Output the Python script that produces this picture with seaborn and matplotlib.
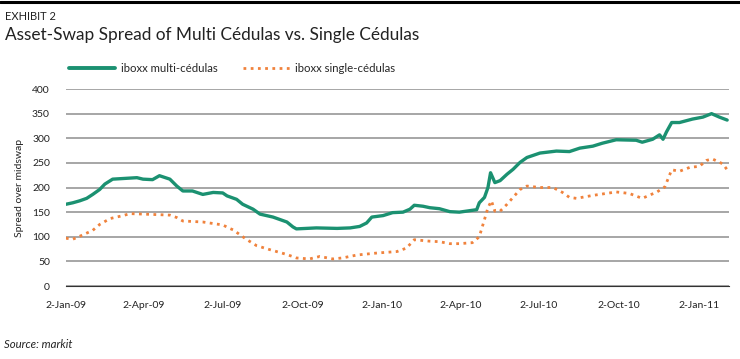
import matplotlib
matplotlib.use("Agg")
import matplotlib.pyplot as plt
from matplotlib.lines import Line2D
import seaborn as sns
import pandas as pd

multi_dates = ["2009-01-02","2009-01-10","2009-01-18","2009-01-26","2009-02-02","2009-02-10","2009-02-16",
    "2009-02-25","2009-03-25","2009-04-01","2009-04-12","2009-04-20","2009-05-02","2009-05-10","2009-05-17",
    "2009-05-28","2009-06-09","2009-06-21","2009-07-02","2009-07-07","2009-07-18","2009-07-25","2009-08-06",
    "2009-08-14","2009-08-29","2009-09-14","2009-09-21","2009-09-25","2009-10-18","2009-11-11","2009-11-26",
    "2009-12-07","2009-12-15","2009-12-21","2010-01-03","2010-01-14","2010-01-26","2010-02-03","2010-02-08",
    "2010-02-18","2010-02-26","2010-03-09","2010-03-21","2010-04-01","2010-04-13","2010-04-21","2010-04-24",
    "2010-04-30","2010-05-04","2010-05-07","2010-05-12","2010-05-18","2010-05-26","2010-06-02","2010-06-10",
    "2010-06-18","2010-07-03","2010-07-22","2010-08-06","2010-08-18","2010-09-02","2010-09-13","2010-09-29",
    "2010-10-22","2010-10-29","2010-11-10","2010-11-18","2010-11-22","2010-11-26","2010-12-02","2010-12-11",
    "2010-12-26","2011-01-07","2011-01-17","2011-01-26","2011-02-04"]
multi_vals = [166,169,173,178,186,196,207,
    217,220,217,216,224,217,203,193,
    193,186,190,189,183,176,166,156,
    146,140,130,120,116,118,117,118,
    121,128,140,143,149,150,156,164,
    162,159,157,151,150,153,155,169,
    180,200,230,210,214,227,237,251,
    261,270,274,273,280,284,290,297,
    296,292,298,307,298,313,332,332,
    339,343,350,343,337]

single_dates = ["2009-01-02","2009-01-10","2009-01-18","2009-02-02","2009-02-10","2009-02-22","2009-03-09",
    "2009-03-17","2009-05-02","2009-05-10","2009-05-17","2009-06-09","2009-07-02","2009-07-10","2009-07-14",
    "2009-07-22","2009-07-30","2009-08-10","2009-08-25","2009-09-14","2009-09-25","2009-10-10","2009-10-22",
    "2009-11-06","2009-11-17","2009-12-04","2009-12-27","2010-01-19","2010-01-30","2010-02-08","2010-02-26",
    "2010-03-09","2010-03-21","2010-04-01","2010-04-16","2010-04-24","2010-04-30","2010-05-04","2010-05-08",
    "2010-05-12","2010-05-18","2010-05-26","2010-06-02","2010-06-10","2010-06-18","2010-07-03","2010-07-18",
    "2010-07-29","2010-08-06","2010-08-14","2010-09-02","2010-09-29","2010-10-14","2010-10-29","2010-11-15",
    "2010-11-24","2010-12-02","2010-12-11","2010-12-23","2011-01-03","2011-01-11","2011-01-18","2011-01-30",
    "2011-02-04"]
single_vals = [97,95,101,113,125,137,143,
    147,144,139,132,130,124,117,114,
    104,94,82,74,64,57,55,60,
    55,57,63,67,70,77,94,91,
    90,86,86,88,100,135,159,173,
    152,152,166,180,196,203,200,200,
    190,180,178,184,191,188,178,191,
    201,236,233,241,243,255,258,248,
    236]

series_names = ["iboxx multi-cédulas", "iboxx single-cédulas"]
tick_dates = ["2009-01-02","2009-04-02","2009-07-02","2009-10-02","2010-01-02",
              "2010-04-02","2010-07-02","2010-10-02","2011-01-02"]
y_ticks = [0, 50, 100, 150, 200, 250, 300, 350, 400]

df = pd.concat([
    pd.DataFrame({"date": pd.to_datetime(multi_dates), "value": multi_vals, "series": series_names[0]}),
    pd.DataFrame({"date": pd.to_datetime(single_dates), "value": single_vals, "series": series_names[1]}),
])

sns.set_style("white")
plt.rcParams["font.family"] = ["Lato", "DejaVu Sans"]

green = "#1b9171"
orange = "#f0823c"

fig = plt.figure(figsize=(7.4, 3.59), dpi=100)
ax = fig.add_axes([0.089, 0.2033, 0.896, 0.5487])

sns.lineplot(data=df, x="date", y="value", hue="series", style="series",
             palette={series_names[0]: green, series_names[1]: orange},
             dashes={series_names[0]: "", series_names[1]: (1, 1.6)},
             linewidth=2.0, ax=ax, legend=False)
ax.lines[0].set_linewidth(2.4)

ax.set_ylim(0, 400)
ax.set_xlim(pd.Timestamp("2009-01-02"), pd.Timestamp("2011-02-06"))
ax.set_yticks(y_ticks)
ax.yaxis.grid(True, color="#a6a6a6", linewidth=1.4)
ax.set_axisbelow(True)
for s in ["top", "right", "left"]:
    ax.spines[s].set_visible(False)
ax.spines["bottom"].set_color("#333333")
ax.spines["bottom"].set_linewidth(0.8)

ticks = pd.to_datetime(tick_dates)
ax.set_xticks(ticks)
ax.set_xticklabels([f"{d.day}-{d.strftime('%b-%y')}" for d in ticks], fontsize=7.5, color="#222222")
ax.tick_params(axis="x", length=5, width=0.8, color="#333333", pad=6, direction="out")
ax.tick_params(axis="y", length=0, pad=11.5, labelsize=7.5, labelcolor="#222222")
ax.set_xlabel("")
ax.set_ylabel("Spread over midswap", fontsize=7.5, color="#222222", labelpad=5.5)

handles = [Line2D([], [], color=green, linewidth=2.8),
           Line2D([], [], color=orange, linewidth=2.0, linestyle=(0, (1, 1.6)))]
fig.legend(handles, series_names, loc="center left", bbox_to_anchor=(0.079, 0.81), ncol=2,
           frameon=False, fontsize=8.2, handlelength=4.1, columnspacing=2.3, handletextpad=0.45)

fig.add_artist(Line2D([0, 1], [0.994, 0.994], color="black", linewidth=2.2, transform=fig.transFigure))
fig.text(0.007, 0.955, "EXHIBIT 2", fontsize=8, color="#222222", va="center", ha="left")
fig.text(0.007, 0.902, "Asset-Swap Spread of Multi Cédulas vs. Single Cédulas", fontsize=12.4,
         color="#222222", va="center", ha="left")
fig.text(0.005, 0.039, "Source: markit", fontsize=8.2, style="italic", color="#222222",
         va="center", ha="left")

fig.savefig("out.png", dpi=100)
